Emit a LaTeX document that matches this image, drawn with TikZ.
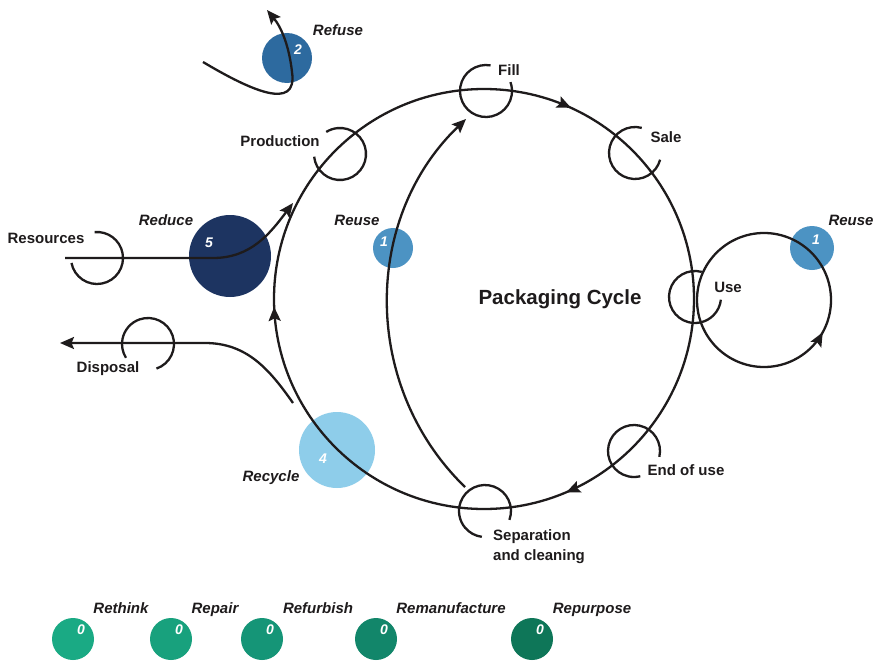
\documentclass[tikz,border=0pt]{standalone}
\usepackage{fontspec}
\setmainfont{Liberation Sans}
\usetikzlibrary{arrows.meta,decorations.markings,calc}

\definecolor{ink}{HTML}{1E1B1C}
\definecolor{refusec}{HTML}{2D6A9F}
\definecolor{reducec}{HTML}{1D3461}
\definecolor{reusec}{HTML}{4C93C3}
\definecolor{recyclec}{HTML}{8ECDEA}
\definecolor{gA}{HTML}{1AAA84}
\definecolor{gB}{HTML}{18A17D}
\definecolor{gC}{HTML}{159577}
\definecolor{gD}{HTML}{12866A}
\definecolor{gE}{HTML}{0E7658}

\tikzset{
  flow/.style={line width=2.3pt, draw=ink},
  tip/.style={-{Stealth[length=14pt,width=12pt,inset=2.5pt]}},
  lbl/.style={font=\fontsize{15}{20}\selectfont\bfseries, text=ink, inner sep=0pt, anchor=base},
  rlbl/.style={font=\fontsize{15}{20}\selectfont\bfseries\itshape, text=ink, inner sep=0pt, anchor=base},
  num/.style={font=\fontsize{14}{16}\selectfont\bfseries\itshape, text=white, inner sep=0pt},
  disc/.style={circle, inner sep=0pt, draw=none},
  midtips/.style={postaction=decorate, decoration={markings,
      #1}},
}
\newcommand{\midtip}{\arrow{Stealth[length=14pt,width=12pt,inset=2.5pt]}}
% open ring marking a stage on the cycle
\newcommand{\stagering}[4]{%
  \coordinate (#1) at (#2);
  \draw[flow] ($(#1)+(#3:26pt)$) arc[start angle=#3, end angle=#4, radius=26pt];}

\begin{document}
\begin{tikzpicture}[x=1pt,y=1pt]
\useasboundingbox (0,0) rectangle (877,-661);
\fill[white] (0,0) rectangle (877,-661);

% ---- coloured discs (strategies) ----
\node[disc, fill=refusec, minimum size=50pt] (refuse) at (287,-58) {};
\node[disc, fill=reducec, minimum size=82pt] (reduce) at (230,-256) {};
\node[disc, fill=reusec, minimum size=40pt] (reuseA) at (393,-248) {};
\node[disc, fill=reusec, minimum size=44pt] (reuseB) at (812,-248) {};
\node[disc, fill=recyclec, minimum size=76pt] (recycle) at (337,-450) {};

\node[num] at ($(refuse)+(11,8)$) {2};
\node[num] at ($(reduce)+(-21,13)$) {5};
\node[num] at ($(reuseA)+(-9,6)$) {1};
\node[num] at ($(reuseB)+(4,8)$) {1};
\node[num] at ($(recycle)+(-14,-9)$) {4};

% ---- bottom row of R-strategies ----
\node[disc, fill=gA, minimum size=42pt] (rethink) at (73,-639) {};
\node[disc, fill=gB, minimum size=42pt] (repair) at (171,-639) {};
\node[disc, fill=gC, minimum size=42pt] (refurbish) at (262,-639) {};
\node[disc, fill=gD, minimum size=42pt] (remanuf) at (376,-639) {};
\node[disc, fill=gE, minimum size=42pt] (repurpose) at (532,-639) {};
\foreach \d in {rethink,repair,refurbish,remanuf,repurpose}
  \node[num] at ($(\d)+(8,9)$) {0};

\node[rlbl] at (121,-613) {Rethink};
\node[rlbl] at (215,-613) {Repair};
\node[rlbl] at (318,-613) {Refurbish};
\node[rlbl] at (451,-613) {Remanufacture};
\node[rlbl] at (592,-613) {Repurpose};

% ---- main packaging cycle ----
\coordinate (cyc) at (484,-299);
\draw[flow, midtips={
    mark=at position 0.068 with {\midtip},
    mark=at position 0.436 with {\midtip},
    mark=at position 0.744 with {\midtip}}]
  ($(cyc)+(90:210pt)$) arc[start angle=90, end angle=-270, radius=210pt];

% stage rings
\stagering{fill}{486,-91}{80}{380}
\stagering{sale}{635,-153}{75}{345}
\stagering{prod}{340,-154}{186}{482}
\stagering{use}{695,-297}{75}{354}
\stagering{eou}{634,-451}{-13}{284}
\stagering{sep}{485,-511}{-20}{263}
\stagering{res}{97,-258}{191}{455}
\stagering{disp}{148,-344}{-71}{212}

% reuse loop at the use stage
\coordinate (loop) at (764,-300);
\draw[flow, midtips={mark=at position 0.42 with {\midtip}}]
  ($(loop)+(180:67pt)$) arc[start angle=180, end angle=540, radius=67pt];

% inner reuse: separation back to fill
\coordinate (ru0) at (465,-487);
\coordinate (ru1) at (466,-119);
\draw[flow, tip] (ru0) to[bend left=46] (ru1);

% resources, reduced, into production
\coordinate (res0) at (65,-258);
\coordinate (resbend) at (213,-258);
\coordinate (red1) at (293,-203);
\draw[flow, tip] (res0) -- (resbend) to[out=0, in=233] (red1);

% disposal out of the cycle
\coordinate (dis0) at (293,-403);
\coordinate (disbend) at (205,-343);
\coordinate (dis1) at (60,-343);
\draw[flow, tip] (dis0) to[out=125, in=0] (disbend) -- (dis1);

% refuse hook
\coordinate (rf0) at (203,-62);
\coordinate (rfturn) at (292,-72);
\coordinate (rf1) at (267,-10);
\draw[flow, tip] (rf0) .. controls (250,-90) and (298,-112) .. (rfturn)
  .. controls (289,-45) and (281,-27) .. (rf1);

% ---- labels ----
\node[rlbl] at (338,-35.5) {Refuse};
\node[lbl] at (509,-75.5) {Fill};
\node[lbl] at (666,-142.5) {Sale};
\node[lbl] at (280,-146.5) {Production};
\node[lbl] at (46,-243.5) {Resources};
\node[rlbl] at (166,-225.5) {Reduce};
\node[lbl] at (108,-372) {Disposal};
\node[rlbl] at (357,-225.5) {Reuse};
\node[rlbl] at (851,-225.5) {Reuse};
\node[lbl] at (728,-292.5) {Use};
\node[lbl] at (686,-475.5) {End of use};
\node[lbl, anchor=base west, align=left] at (493,-560) {Separation\\and cleaning};
\node[rlbl] at (271,-481.5) {Recycle};
\node[font=\fontsize{20.5}{24}\selectfont\bfseries, text=ink, inner sep=0pt, anchor=base] at (560,-304.7) {Packaging Cycle};
\end{tikzpicture}
\end{document}
